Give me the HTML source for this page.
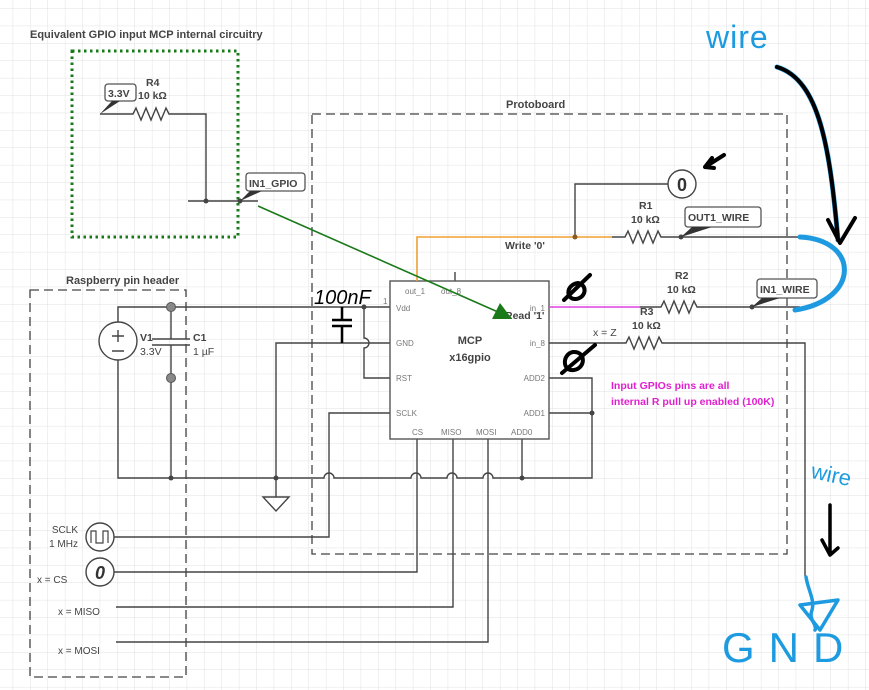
<!DOCTYPE html>
<html><head><meta charset="utf-8"><style>
html,body{margin:0;padding:0;background:#fff;}
svg{display:block;font-family:"Liberation Sans",sans-serif;}
</style></head><body>
<svg width="869" height="690" viewBox="0 0 869 690" xmlns="http://www.w3.org/2000/svg">
<defs>
<pattern id="g" x="12.7" y="8.3" width="17.4" height="17.4" patternUnits="userSpaceOnUse">
<path d="M0 0H17.4M0 0V17.4" stroke="#e2e2e2" stroke-width="1" fill="none"/>
</pattern>
</defs>
<rect width="869" height="690" fill="#fff"/>
<rect width="869" height="690" fill="url(#g)"/>

<g fill="#444" font-size="11" font-weight="bold">
<text x="30" y="38">Equivalent GPIO input MCP internal circuitry</text>
<text x="506" y="108">Protoboard</text>
<text x="66" y="284">Raspberry pin header</text>
</g>

<rect x="72" y="51" width="166" height="186" fill="none" stroke="#1a7a1a" stroke-width="3" stroke-dasharray="2.5 3.5"/>
<rect x="312" y="114" width="475" height="440" fill="none" stroke="#444" stroke-width="1.3" stroke-dasharray="9 5"/>
<rect x="30" y="290" width="156" height="387" fill="none" stroke="#444" stroke-width="1.3" stroke-dasharray="9 5"/>

<g stroke="#444" stroke-width="1.4" fill="none">
<path d="M100 114H133l3 -6 5 12 5 -12 5 12 5 -12 5 12 5 -12 3 6H206V201"/>
<path d="M188 201H258"/>
<path d="M118 322V307H390"/>
<path d="M171 307V339M152 339H190M152 345H190M171 345V478"/>
<path d="M118 360V478H324a5 5 0 0 1 10 0H411a5 5 0 0 1 10 0H447a5 5 0 0 1 10 0H483a5 5 0 0 1 10 0H592V378H549"/>
<path d="M592 413H549"/>
<path d="M364 307V338a5 5 0 0 1 0 10V378H390"/>
<path d="M276 497V343H390"/>
<path d="M263 497H289L276 511Z"/>
<path d="M342 307V320M332 320H352M332 326H352M342 326V343" stroke="#000" stroke-width="2.5"/>
<path d="M390 413H329V537H114"/>
<path d="M417 439V572H114"/>
<path d="M453 439V607H116"/>
<path d="M488 439V642H116"/>
<path d="M522 439V478"/>
<path d="M455 272V281"/>
<rect x="390" y="281" width="159" height="158" stroke="#555" fill="#fff"/>
<path d="M612 237H625l3 -6 5 12 5 -12 5 12 5 -12 5 12 5 -12 3 6H800"/>
<path d="M575 237V184H668"/>
<path d="M640 307H661l3 -6 5 12 5 -12 5 12 5 -12 5 12 5 -12 3 6H800"/>
<path d="M549 343H626l3 -6 5 12 5 -12 5 12 5 -12 5 12 5 -12 3 6H805V576"/>
</g>
<path d="M417 281V237H612" stroke="#f0a030" stroke-width="1.6" fill="none"/>
<path d="M549 307H640" stroke="#e040e0" stroke-width="1.6" fill="none"/>

<g fill="#444">
<circle cx="206" cy="201" r="2.5"/><circle cx="240" cy="201" r="2.5"/>
<circle cx="364" cy="307" r="2.5"/><circle cx="171" cy="478" r="2.5"/>
<circle cx="276" cy="478" r="2.5"/><circle cx="522" cy="478" r="2.5"/>
<circle cx="592" cy="413" r="2.5"/><circle cx="575" cy="237" r="2.5" fill="#8a5a20"/>
<circle cx="681" cy="237" r="2.5"/><circle cx="752" cy="307" r="2.5"/>
</g>
<circle cx="171" cy="307" r="4.5" fill="#888" stroke="#555"/>
<circle cx="171" cy="378" r="4.5" fill="#888" stroke="#555"/>

<circle cx="118" cy="341" r="19" fill="#fff" stroke="#444" stroke-width="1.4"/>
<path d="M112 336H124M118 330V342M112 351H124" stroke="#444" stroke-width="1.4"/>

<circle cx="100" cy="537" r="14" fill="#fff" stroke="#444" stroke-width="1.4"/>
<path d="M91 543V531H96V543H103V531H108V543" stroke="#444" stroke-width="1.2" fill="none"/>
<circle cx="100" cy="572" r="14" fill="#fff" stroke="#444" stroke-width="1.4"/>
<text x="100" y="579" font-size="18" font-weight="bold" font-style="italic" fill="#333" text-anchor="middle">0</text>
<circle cx="682" cy="184" r="14" fill="#fff" stroke="#444" stroke-width="1.4"/>
<text x="682" y="191" font-size="18" font-weight="bold" fill="#333" text-anchor="middle">0</text>

<g stroke="#555" stroke-width="1.3" fill="#fff">
<rect x="105" y="84" width="31" height="17" rx="3"/>
<rect x="246" y="173" width="59" height="18" rx="3"/>
<rect x="685" y="207" width="76" height="20" rx="3"/>
<rect x="757" y="279" width="60" height="19" rx="3"/>
</g>
<g fill="#333">
<path d="M100 114L112 101H120Z"/><path d="M240 201L250 191H262Z"/>
<path d="M681 237L692 227H712Z"/><path d="M752 307L762 298H780Z"/>
</g>

<g fill="#444" font-size="10.5" font-weight="bold">
<text x="108" y="97">3.3V</text>
<text x="146" y="86">R4</text><text x="138" y="99">10 kΩ</text>
<text x="249" y="187">IN1_GPIO</text>
<text x="688" y="221">OUT1_WIRE</text>
<text x="760" y="293">IN1_WIRE</text>
<text x="639" y="209">R1</text><text x="631" y="223">10 kΩ</text>
<text x="675" y="279">R2</text><text x="667" y="293">10 kΩ</text>
<text x="640" y="315">R3</text><text x="632" y="329">10 kΩ</text>
<text x="593" y="336" font-weight="normal">x = Z</text>
<text x="505" y="249">Write '0'</text>
<text x="505" y="319">Read '1'</text>
<text x="140" y="341">V1</text><text x="140" y="355" font-weight="normal">3.3V</text>
<text x="193" y="341">C1</text><text x="193" y="355" font-weight="normal">1 µF</text>
<text x="470" y="344" text-anchor="middle" font-size="11">MCP</text>
<text x="470" y="361" text-anchor="middle" font-size="11">x16gpio</text>
</g>
<g fill="#777" font-size="8">
<text x="405" y="294">out_1</text><text x="441" y="294">out_8</text>
<text x="383" y="304">1</text>
<text x="396" y="311">Vdd</text><text x="396" y="346">GND</text>
<text x="396" y="381">RST</text><text x="396" y="416">SCLK</text>
<text x="412" y="435">CS</text><text x="441" y="435">MISO</text>
<text x="476" y="435">MOSI</text><text x="511" y="435">ADD0</text>
<text x="545" y="311" text-anchor="end">in_1</text>
<text x="545" y="346" text-anchor="end">in_8</text>
<text x="545" y="381" text-anchor="end">ADD2</text>
<text x="545" y="416" text-anchor="end">ADD1</text>
</g>
<g fill="#444" font-size="10">
<text x="78" y="533" text-anchor="end">SCLK</text>
<text x="78" y="547" text-anchor="end">1 MHz</text>
<text x="37" y="583">x = CS</text>
<text x="58" y="615">x = MISO</text>
<text x="58" y="654">x = MOSI</text>
</g>
<g fill="#e020d0" font-size="10.5" font-weight="bold">
<text x="611" y="389">Input GPIOs pins are all</text>
<text x="611" y="405">internal R pull up enabled (100K)</text>
</g>

<path d="M258 206L498 312" stroke="#1a7a1a" stroke-width="1.6"/>
<path d="M512 319L492 319L500 303Z" fill="#1a7a1a"/>

<g fill="none" stroke-linecap="round" stroke-linejoin="round">
<text x="314" y="304" font-size="20" font-style="italic" fill="#000" stroke="none">100nF</text>
<text x="706" y="48" font-size="32" fill="#1e9be0" stroke="none" letter-spacing="1">wire</text>
<path d="M800 237C860 240 860 300 795 310" stroke="#1e9be0" stroke-width="5"/>
<path d="M777 67C820 80 830 150 838 240" stroke="#1e9be0" stroke-width="5"/>
<path d="M777 67C820 80 830 150 838 240M828 220L840 243L855 218" stroke="#000" stroke-width="4"/>
<path d="M724 155L705 167L712 158M705 167L714 168" stroke="#000" stroke-width="4"/>
<path d="M578 283C565 285 566 300 576 299C586 298 588 285 578 283ZM564 300L590 275" stroke="#000" stroke-width="4"/>
<path d="M573 352C562 354 562 372 574 370C586 368 586 351 573 352ZM562 373L595 345" stroke="#000" stroke-width="4"/>
<text x="810" y="482" font-size="22" fill="#1e9be0" stroke="none" transform="rotate(12 830 480)">wire</text>
<path d="M830 505V552M822 540L830 555L838 548" stroke="#000" stroke-width="3.5"/>
<path d="M806 577C808 590 815 600 812 610C808 620 818 625 815 630" stroke="#1e9be0" stroke-width="3.5"/>
<path d="M800 605L838 600L820 630Z" stroke="#1e9be0" stroke-width="3.5"/>
<text x="722" y="662" font-size="42" fill="#1e9be0" stroke="none" letter-spacing="14">GND</text>
</g>
</svg>
</body></html>
